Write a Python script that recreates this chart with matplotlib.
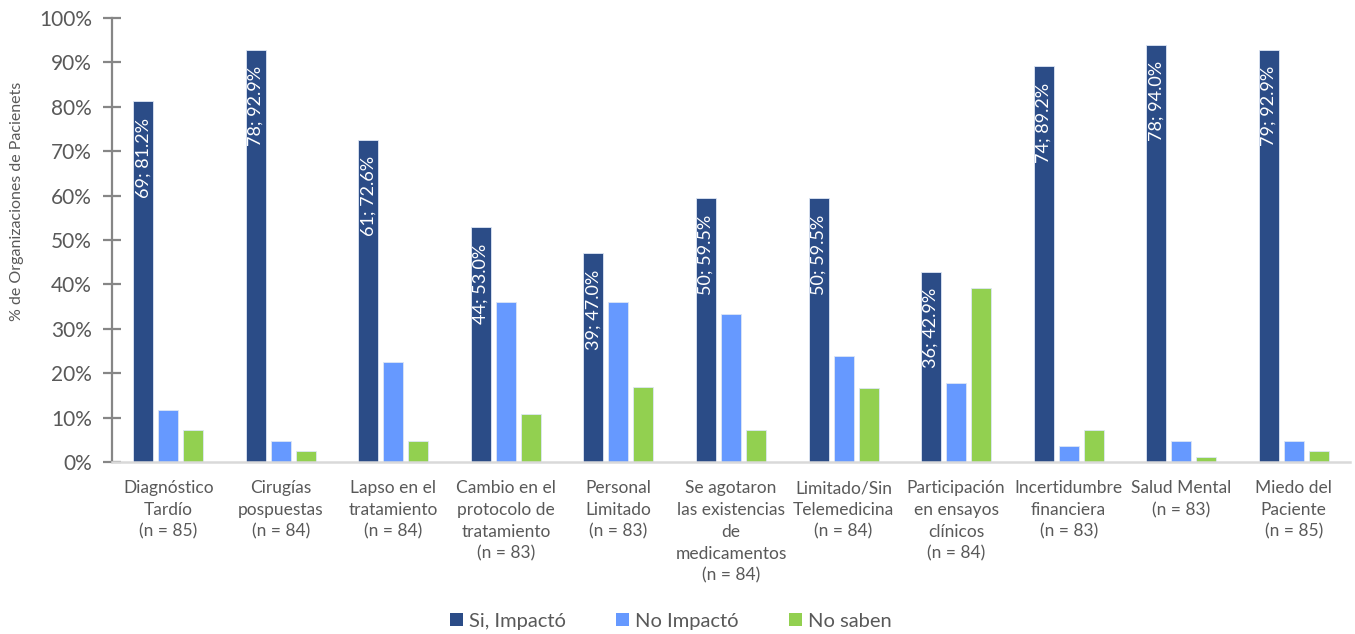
import matplotlib
matplotlib.use("Agg")
import matplotlib.pyplot as plt
from matplotlib.patches import Patch
import numpy as np

plt.rcParams['font.family'] = ['Lato', 'DejaVu Sans']

categories = [
    "Diagnóstico\nTardío\n(n = 85)",
    "Cirugías\npospuestas\n(n = 84)",
    "Lapso en el\ntratamiento\n(n = 84)",
    "Cambio en el\nprotocolo de\ntratamiento\n(n = 83)",
    "Personal\nLimitado\n(n = 83)",
    "Se agotaron\nlas existencias\nde\nmedicamentos\n(n = 84)",
    "Limitado/Sin\nTelemedicina\n(n = 84)",
    "Participación\nen ensayos\nclínicos\n(n = 84)",
    "Incertidumbre\nfinanciera\n(n = 83)",
    "Salud Mental\n(n = 83)",
    "Miedo del\nPaciente\n(n = 85)",
]
si_impacto = [81.2, 92.9, 72.6, 53.0, 47.0, 59.5, 59.5, 42.9, 89.2, 94.0, 92.9]
si_counts = [69, 78, 61, 44, 39, 50, 50, 36, 74, 78, 79]
no_impacto = [11.8, 4.8, 22.6, 36.1, 36.1, 33.3, 23.8, 17.9, 3.6, 4.8, 4.7]
no_saben = [7.1, 2.4, 4.8, 10.8, 16.9, 7.1, 16.7, 39.3, 7.2, 1.2, 2.4]
series_names = ["Si, Impactó", "No Impactó", "No saben"]
colors = ["#2B4C87", "#6699FF", "#92D050"]
ytick_labels = [f"{v}%" for v in range(0, 101, 10)]

W, H = 1355, 634
fig = plt.figure(figsize=(W / 100, H / 100), dpi=100)
ax = fig.add_axes([112 / W, (H - 462) / H, (1350 - 112) / W, (462 - 18) / H])

x = np.arange(len(categories))
step = 0.222
bw = 0.178
text_grey = "#595959"

for i, (vals, col) in enumerate(zip([si_impacto, no_impacto, no_saben], colors)):
    ax.bar(x + (i - 1) * step, vals, width=bw, color=col,
           edgecolor="#DDE6F5", linewidth=0.6, zorder=3)

# value labels inside the "Si, Impactó" bars, reading upward
for xi, v, n in zip(x, si_impacto, si_counts):
    ax.annotate(f"{n}; {v:.1f}%", xy=(xi - step, v), xytext=(0, -12),
                textcoords="offset points", rotation=90, ha="center", va="top",
                color="white", fontsize=13, zorder=4)

ax.set_xlim(-0.5, len(categories) - 0.5)
ax.set_ylim(0, 100)
ax.set_yticks(range(0, 101, 10))
ax.set_yticklabels(ytick_labels, fontsize=15, color=text_grey)
ax.set_xticks(x)
ax.set_xticklabels(categories, fontsize=12.5, color=text_grey, linespacing=1.45, va="top")
ax.tick_params(axis="x", length=0, pad=13)
ax.tick_params(axis="y", direction="inout", length=13, width=1.6, color="#868686", pad=8)

for s in ["top", "right"]:
    ax.spines[s].set_visible(False)
ax.spines["left"].set_color("#868686")
ax.spines["left"].set_linewidth(1.6)
ax.spines["bottom"].set_color("#D9D9D9")
ax.spines["bottom"].set_linewidth(1.8)
ax.spines["bottom"].set_zorder(5)

ax.set_ylabel("% de Organizaciones de Pacienets", fontsize=11.5, color=text_grey)
ax.yaxis.set_label_coords(-0.071, 0.588)

handles = [Patch(facecolor=c, edgecolor="none") for c in colors]
fig.legend(handles, series_names, loc="center", bbox_to_anchor=(0.495, 0.02),
           ncol=3, frameon=False, fontsize=14.5, handlelength=0.65, handleheight=0.65,
           handletextpad=0.3, columnspacing=2.5, labelcolor=text_grey)

fig.savefig("out.png", dpi=100)
